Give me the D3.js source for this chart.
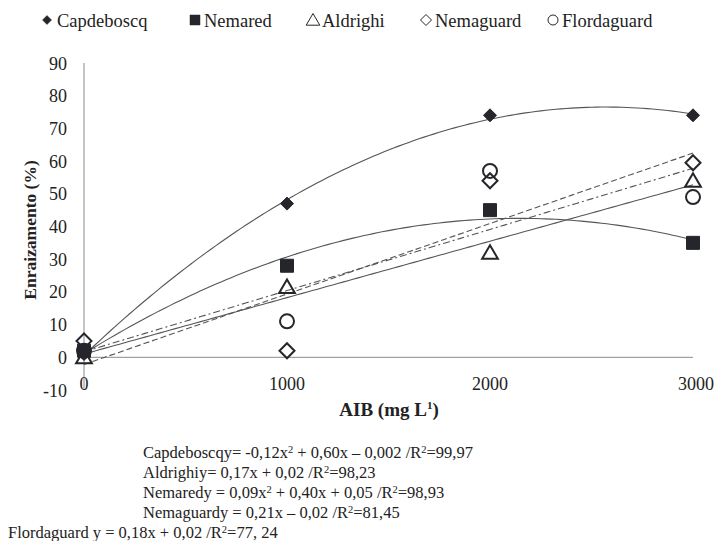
<!DOCTYPE html>
<html>
<head>
<meta charset="utf-8">
<script src="https://cdn.jsdelivr.net/npm/d3@7/dist/d3.min.js"></script>
<style>
body{margin:0;background:#fff;}
</style>
</head>
<body>
<svg id="c" width="718" height="541"></svg>
<script>
const doses = [0, 1000, 2000, 3000];
const seriesNames = ["Capdeboscq", "Nemared", "Aldrighi", "Nemaguard", "Flordaguard"];
const capdeboscq = [1, 47, 74, 74];
const nemared = [2, 28, 45, 35];
const aldrighi = [0, 21.5, 32, 54];
const nemaguard = [5, 2, 54, 59.5];
const flordaguard = [2, 11, 57, 49];
const yTicks = [-10, 0, 10, 20, 30, 40, 50, 60, 70, 80, 90];
const xTicks = [0, 1000, 2000, 3000];
const fitOrder = [2, 2, 1, 1, 1];
const equations = [
  "Capdeboscqy= -0,12x² + 0,60x – 0,002 /R²=99,97",
  "Aldrighiy= 0,17x + 0,02 /R²=98,23",
  "Nemaredy = 0,09x² + 0,40x + 0,05 /R²=98,93",
  "Nemaguardy = 0,21x – 0,02 /R²=81,45",
  "Flordaguard y = 0,18x + 0,02 /R²=77, 24"
];

const values = [capdeboscq, nemared, aldrighi, nemaguard, flordaguard];
const FONT = "'Liberation Serif','DejaVu Serif','Times New Roman',serif";

function markerPath(kind, r) {
  if (kind === "diamond") return `M0,${-r}L${r},0L0,${r}L${-r},0Z`;
  if (kind === "square") return `M${-r},${-r}H${r}V${r}H${-r}Z`;
  if (kind === "triangle") return `M0,${-r}L${r * 1.05},${r * 0.8}L${-r * 1.05},${r * 0.8}Z`;
  return d3.arc()({innerRadius: 0, outerRadius: r, startAngle: 0, endAngle: 2 * Math.PI});
}
const markers = [
  {kind: "diamond", fill: true, r: 6.5},
  {kind: "square", fill: true, r: 6.5},
  {kind: "triangle", fill: false, r: 7.5},
  {kind: "diamond", fill: false, r: 7.5},
  {kind: "circle", fill: false, r: 7}
];
const dashes = [null, null, null, "6,3", "7,3,2,3"];

const svg = d3.select("#c");
const x = d3.scaleLinear().domain([0, 3000]).range([84, 693]);
const y = d3.scaleLinear().domain([-10, 90]).range([390, 63]);

function polyfit(xs, ys, order) {
  const n = order + 1;
  const A = [];
  for (let i = 0; i < n; i++) {
    A.push([]);
    for (let j = 0; j < n; j++) A[i].push(d3.sum(xs, v => Math.pow(v, i + j)));
    A[i].push(d3.sum(xs.map((v, k) => Math.pow(v, i) * ys[k])));
  }
  for (let i = 0; i < n; i++) {
    let p = i;
    for (let r = i + 1; r < n; r++) if (Math.abs(A[r][i]) > Math.abs(A[p][i])) p = r;
    [A[i], A[p]] = [A[p], A[i]];
    for (let r = 0; r < n; r++) {
      if (r === i) continue;
      const f = A[r][i] / A[i][i];
      for (let c = i; c <= n; c++) A[r][c] -= f * A[i][c];
    }
  }
  return A.map((row, i) => row[n] / row[i]);
}

// axes
svg.append("line").attr("x1", x(0)).attr("x2", x(0)).attr("y1", y(90)).attr("y2", y(-10))
  .attr("stroke", "#8a8a8a").attr("stroke-width", 1);
svg.append("line").attr("x1", x(0)).attr("x2", x(3000)).attr("y1", y(0)).attr("y2", y(0))
  .attr("stroke", "#8a8a8a").attr("stroke-width", 1);

svg.append("g").selectAll("text").data(yTicks).join("text")
  .attr("x", 67).attr("y", d => y(d) + 6.5).attr("text-anchor", "end")
  .attr("font-family", FONT).attr("font-size", 18).attr("fill", "#222").text(d => d);

svg.append("g").selectAll("text").data(xTicks).join("text")
  .attr("x", d => x(d) + (d === 3000 ? 3 : 0)).attr("y", 390).attr("text-anchor", "middle")
  .attr("font-family", FONT).attr("font-size", 18).attr("fill", "#222").text(d => d);

// titles
svg.append("text").attr("transform", "translate(36,230) rotate(-90)")
  .attr("text-anchor", "middle").attr("font-family", FONT).attr("font-size", 17.5)
  .attr("font-weight", "bold").attr("fill", "#222")
  .text("Enraizamento (%)");
const xt = svg.append("text").attr("x", 389).attr("y", 416).attr("text-anchor", "middle")
  .attr("font-family", FONT).attr("font-size", 19).attr("font-weight", "bold").attr("fill", "#222");
xt.append("tspan").text("AIB (mg L");
xt.append("tspan").attr("font-size", 11).attr("dy", -7).text("1");
xt.append("tspan").attr("dy", 7).text(")");

// trend lines
const xs = doses.map(d => d / 1000);
const line = d3.line().x(d => x(d[0])).y(d => y(d[1]));
values.forEach((vals, i) => {
  const c = polyfit(xs, vals, fitOrder[i]);
  const pts = d3.range(0, 3000.01, 25).map(d => {
    const t = d / 1000;
    return [d, c.reduce((s, ci, k) => s + ci * Math.pow(t, k), 0)];
  });
  svg.append("path").attr("d", line(pts)).attr("fill", "none")
    .attr("stroke", "#555").attr("stroke-width", 1.1)
    .attr("stroke-dasharray", dashes[i]);
});

// markers
values.forEach((vals, i) => {
  const m = markers[i];
  svg.append("g").selectAll("path").data(doses.map((d, k) => [d, vals[k]])).join("path")
    .attr("transform", d => `translate(${x(d[0])},${y(d[1])})`)
    .attr("d", markerPath(m.kind, m.r))
    .attr("fill", m.fill ? "#25262b" : "none")
    .attr("stroke", "#25262b").attr("stroke-width", m.fill ? 1 : 2);
});

// legend
const legendPos = [[47, 57], [195, 204], [313, 322], [426, 435], [553, 562]];
const legendMarkers = [
  {kind: "diamond", fill: true, r: 4.5},
  {kind: "square", fill: true, r: 5},
  {kind: "triangle", fill: false, r: 6.5},
  {kind: "diamond", fill: false, r: 5.5},
  {kind: "circle", fill: false, r: 5}
];
seriesNames.forEach((name, i) => {
  const m = legendMarkers[i];
  svg.append("path").attr("transform", `translate(${legendPos[i][0]},20)`)
    .attr("d", markerPath(m.kind, m.r))
    .attr("fill", m.fill ? "#25262b" : "none").attr("stroke", "#25262b")
    .attr("stroke-width", m.fill ? 0.5 : 1);
  svg.append("text").attr("x", legendPos[i][1]).attr("y", 26.5)
    .attr("font-family", FONT).attr("font-size", 18.5)
    .attr("fill", "#222").text(name);
});

// equations
const eqPos = [[143, 458], [143, 478], [143, 498], [143, 518], [8, 538]];
equations.forEach((eq, i) => {
  const t = svg.append("text").attr("x", eqPos[i][0]).attr("y", eqPos[i][1])
    .attr("font-family", FONT).attr("font-size", 16.5).attr("fill", "#222");
  const parts = eq.split("²");
  parts.forEach((p, k) => {
    t.append("tspan").text(p).attr("dy", k > 0 ? 5 : 0);
    if (k < parts.length - 1) t.append("tspan").text("2").attr("font-size", 10.5).attr("dy", -5);
  });
});
</script>
</body>
</html>
